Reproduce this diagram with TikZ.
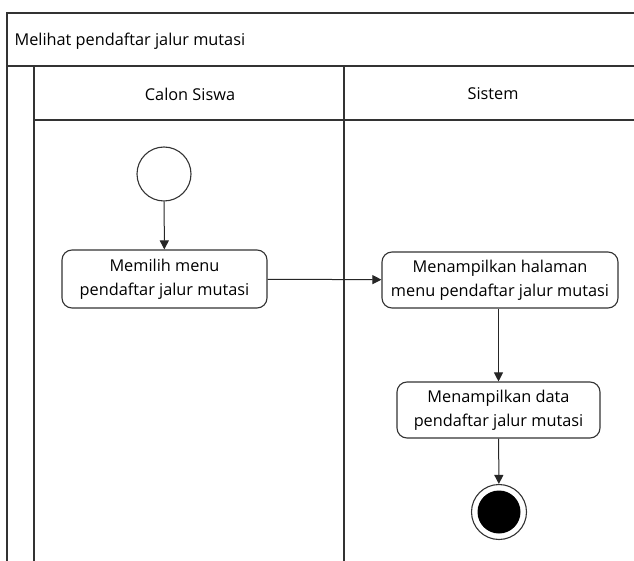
\documentclass[tikz,border=0pt]{standalone}
\usepackage{fontspec}
\setmainfont{Open Sans}
\usetikzlibrary{arrows.meta}
\begin{document}
\begin{tikzpicture}[x=1pt,y=-1pt,
  lane/.style={draw=black!80,line width=1.3pt},
  action/.style={draw=black!80,line width=1.1pt,rounded corners=10pt,fill=white,
    align=center,font=\fontsize{16.3}{24}\selectfont,inner sep=0pt},
  flow/.style={draw=black!85,line width=1pt,-{Triangle[length=9pt,width=9pt]}},
  lbl/.style={font=\fontsize{16.3}{19}\selectfont}]
\useasboundingbox (0,0) rectangle (634,561);
% swimlane frame
\draw[lane] (634,13) -- (7,13) -- (7,561);
\draw[lane] (7,66) -- (634,66);
\draw[lane] (34,66) -- (34,561);
\draw[lane] (344,66) -- (344,561);
\draw[lane] (34,120) -- (634,120);
\node[lbl,anchor=west] (title) at (11,41) {Melihat pendaftar jalur mutasi};
\node[lbl] (laneA) at (190,94) {Calon Siswa};
\node[lbl] (laneB) at (493,94) {Sistem};
% activities
\node[circle,draw=black!80,line width=1.1pt,minimum size=54pt,inner sep=0pt] (start) at (164,174) {};
\node[action,minimum width=205pt,minimum height=58pt] (pilih) at (164.5,279) {Memilih menu\\pendaftar jalur mutasi};
\node[action,minimum width=236pt,minimum height=56pt] (tampil) at (500,280) {Menampilkan halaman\\menu pendaftar jalur mutasi};
\node[action,minimum width=203pt,minimum height=56pt] (data) at (498.5,410) {Menampilkan data\\pendaftar jalur mutasi};
\node[circle,draw=black!80,line width=1.1pt,minimum size=55pt,inner sep=0pt] (end) at (499,512) {};
\node[circle,fill=black,minimum size=43pt,inner sep=0pt] (endcore) at (end.center) {};
% control flow
\draw[flow] (start) -- (pilih);
\draw[flow] (pilih) -- (tampil);
\draw[flow] (tampil.south -| data.north) -- (data);
\draw[flow] (data) -- (end);
\end{tikzpicture}
\end{document}
